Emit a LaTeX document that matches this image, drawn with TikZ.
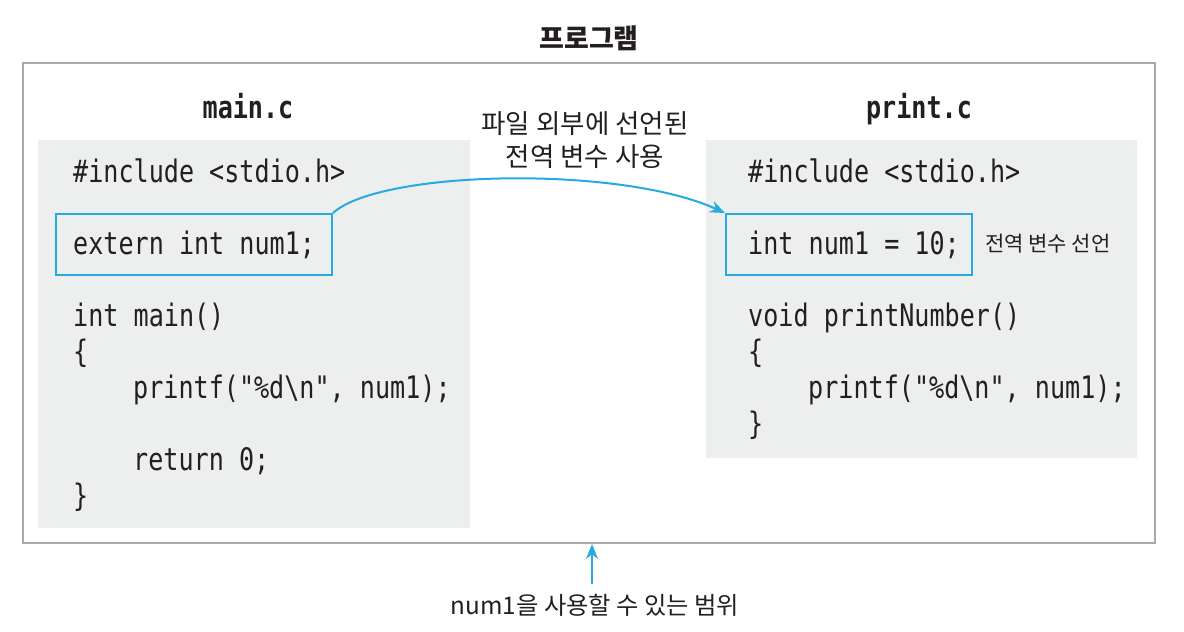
\documentclass[tikz,border=0pt]{standalone}
\usepackage{fontspec}
\usetikzlibrary{arrows.meta}
\setmainfont{Noto Sans CJK KR}
\newfontfamily\kr{Noto Sans CJK KR}
\newfontfamily\code[FakeStretch=0.81]{DejaVu Sans Mono}
\definecolor{txt}{HTML}{231F20}
\definecolor{panel}{HTML}{EDEEEE}
\definecolor{frame}{HTML}{A7A9AC}
\definecolor{cyanline}{HTML}{27AAE1}
\tikzset{
  codeline/.style={anchor=base west, inner sep=0pt, text=txt, font=\code\fontsize{31}{36}\selectfont},
  filename/.style={anchor=base, inner sep=0pt, text=txt, font=\code\bfseries\fontsize{31}{36}\selectfont},
  krlabel/.style={inner sep=0pt, text=txt, font=\kr\fontsize{26.5}{33}\selectfont, align=center},
  smalllabel/.style={anchor=base west, inner sep=0pt, text=txt, font=\kr\fontsize{21}{24}\selectfont},
  hilite/.style={draw=cyanline, line width=2pt, rectangle, inner sep=0pt},
  linkarrow/.style={draw=cyanline, line width=2pt, -{Stealth[length=15pt,width=12pt]}},
}
\begin{document}
\begin{tikzpicture}[x=1pt,y=-1pt]
\useasboundingbox (0,0) rectangle (1184,632);
% title
\node[krlabel, anchor=base, font=\kr\bfseries\fontsize{27}{30}\selectfont] (title) at (589,48) {프로그램};
% outer frame
\node[draw=frame, line width=2pt, rectangle, minimum width=1132pt, minimum height=480pt, inner sep=0pt] (prog) at (589,303) {};
% panels
\node[fill=panel, rectangle, minimum width=432pt, minimum height=388pt, inner sep=0pt] (mainpanel) at (254,334) {};
\node[fill=panel, rectangle, minimum width=431pt, minimum height=318pt, inner sep=0pt] (printpanel) at (921.5,299) {};
% file names
\node[filename] (mainname) at (248,118) {main.c};
\node[filename] (printname) at (919,118) {print.c};
% highlight boxes
\node[hilite, minimum width=276pt, minimum height=61pt] (ext) at (194,244.5) {};
\node[hilite, minimum width=246pt, minimum height=61pt] (def) at (849,244.5) {};
% main.c code
\node[codeline] (m1) at (73,182) {\#include <stdio.h>};
\node[codeline] (m2) at (73,254) {extern int num1;};
\node[codeline] (m3) at (73,326) {int main()};
\node[codeline] (m4) at (73,362) {\{};
\node[codeline] (m5) at (133,398) {printf("\%d\textbackslash n", num1);};
\node[codeline] (m6) at (133,470) {return 0;};
\node[codeline] (m7) at (73,506) {\}};
% print.c code
\node[codeline] (p1) at (748,182) {\#include <stdio.h>};
\node[codeline] (p2) at (748,254) {int num1 = 10;};
\node[codeline] (p3) at (748,326) {void printNumber()};
\node[codeline] (p4) at (748,362) {\{};
\node[codeline] (p5) at (808,398) {printf("\%d\textbackslash n", num1);};
\node[codeline] (p6) at (748,434) {\}};
% labels
\node[krlabel] (uselabel) at (585,140) {파일 외부에 선언된\\전역 변수 사용};
\node[smalllabel] (decllabel) at (985,251) {전역 변수 선언};
\node[krlabel, anchor=base, font=\kr\fontsize{24.3}{30}\selectfont] (scope) at (595,614) {num1을 사용할 수 있는 범위};
% connectors
\draw[linkarrow] (ext.north east) .. controls (380,170) and (620,165) .. (def.north west);
\coordinate (scopetail) at (592,584);
\draw[linkarrow] (scopetail) -- (scopetail |- prog.south);
\end{tikzpicture}
\end{document}
